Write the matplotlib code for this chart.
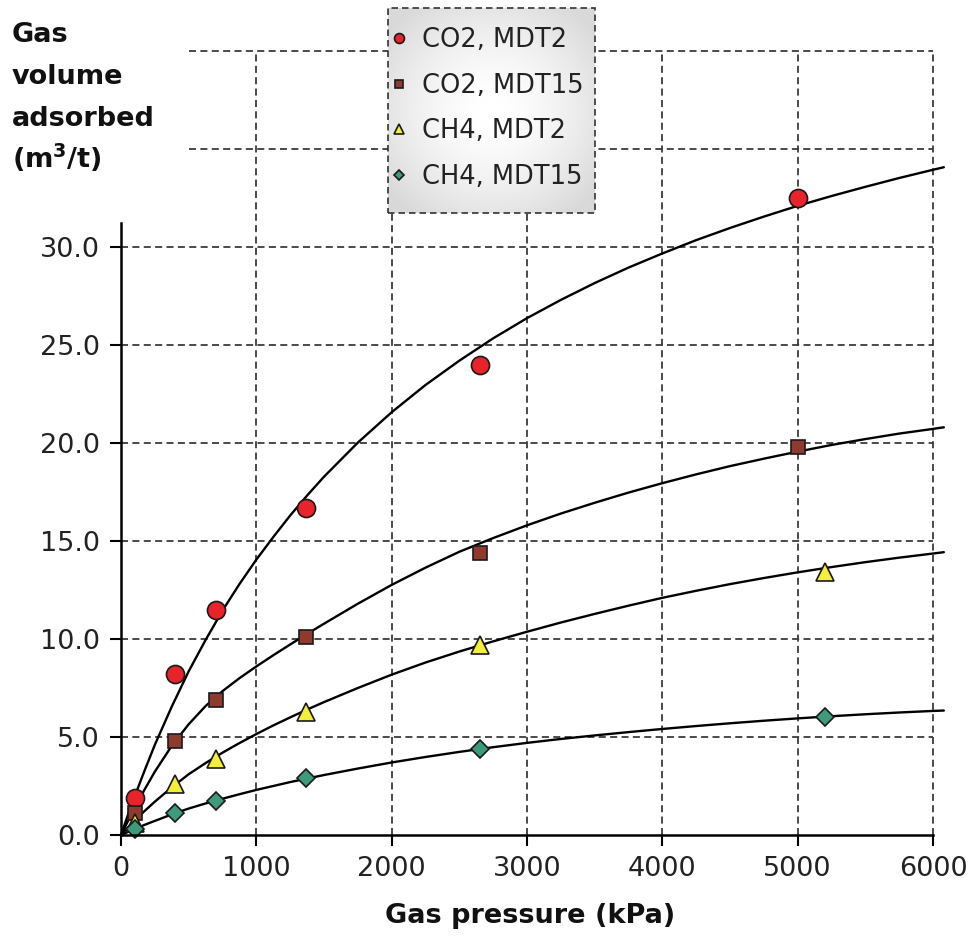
import numpy as np
import matplotlib
matplotlib.use("Agg")
import matplotlib.pyplot as plt
from matplotlib.patches import Rectangle

plt.rcParams['font.family'] = ['DejaVu Sans']

# ---------------- data ----------------
co2_mdt2_p = [100, 400, 700, 1370, 2650, 5000]
co2_mdt2_v = [1.9, 8.2, 11.5, 16.7, 24.0, 32.5]
co2_mdt15_p = [100, 400, 700, 1370, 2650, 5000]
co2_mdt15_v = [1.1, 4.8, 6.9, 10.1, 14.4, 19.8]
ch4_mdt2_p = [100, 400, 700, 1370, 2650, 5200]
ch4_mdt2_v = [0.6, 2.6, 3.9, 6.3, 9.7, 13.4]
ch4_mdt15_p = [100, 400, 700, 1370, 2650, 5200]
ch4_mdt15_v = [0.3, 1.1, 1.75, 2.9, 4.4, 6.0]

# fitted curves, values
curve_p = [0, 50, 100, 175, 250, 375, 500, 625, 750, 875, 1000, 1125, 1250,
           1375, 1500, 1750, 2000, 2250, 2500, 2750, 3000, 3250, 3500, 3750,
           4000, 4250, 4500, 4750, 5000, 5250, 5500, 5750, 6000, 6080]
curve_co2_mdt2 = [0, 1.0, 1.95, 3.3, 4.6, 6.55, 8.35, 9.95, 11.45, 12.8, 14.05,
                  15.2, 16.3, 17.32, 18.28, 20.02, 21.57, 22.96, 24.2, 25.34,
                  26.37, 27.3, 28.16, 28.95, 29.67, 30.35, 30.97, 31.55, 32.1,
                  32.6, 33.07, 33.52, 33.94, 34.07]
curve_co2_mdt15 = [0, 0.69, 1.35, 2.33, 3.23, 4.55, 5.65, 6.58, 7.34, 8.0, 8.6,
                   9.17, 9.72, 10.26, 10.78, 11.8, 12.76, 13.64, 14.45, 15.15,
                   15.8, 16.4, 16.95, 17.47, 17.95, 18.4, 18.82, 19.2, 19.56,
                   19.9, 20.2, 20.48, 20.72, 20.8]
curve_ch4_mdt2 = [0, 0.37, 0.72, 1.23, 1.7, 2.43, 3.1, 3.67, 4.2, 4.69, 5.15,
                  5.59, 6.0, 6.4, 6.78, 7.5, 8.18, 8.8, 9.36, 9.88, 10.37,
                  10.84, 11.28, 11.7, 12.1, 12.46, 12.8, 13.11, 13.4, 13.67,
                  13.92, 14.15, 14.36, 14.43]
curve_ch4_mdt15 = [0, 0.15, 0.3, 0.52, 0.72, 1.05, 1.35, 1.61, 1.85, 2.08, 2.3,
                   2.5, 2.7, 2.88, 3.06, 3.39, 3.7, 3.98, 4.24, 4.48, 4.7, 4.9,
                   5.08, 5.25, 5.41, 5.56, 5.7, 5.83, 5.95, 6.06, 6.16, 6.25,
                   6.33, 6.35]

series_labels = ['CO2, MDT2', 'CO2, MDT15', 'CH4, MDT2', 'CH4, MDT15']

x_ticks = [0, 1000, 2000, 3000, 4000, 5000, 6000]
y_ticks = [0, 5, 10, 15, 20, 25, 30]
grid_y_low = [5, 10, 15, 20, 25, 30]
grid_y_high = [35, 40]
grid_x = [1000, 2000, 3000, 4000, 5000, 6000]

# ---------------- figure ----------------
W, H = 976, 942
fig = plt.figure(figsize=(W / 100, H / 100), dpi=100)
fig.patch.set_facecolor('white')

x0_px, y0_px = 121, 835
px_per_kpa = 812 / 6000.0
px_per_unit = 19.6
xmax, ymax = 6100, 42.5
ax = fig.add_axes([x0_px / W, 1 - y0_px / H,
                   xmax * px_per_kpa / W, ymax * px_per_unit / H])
ax.set_xlim(0, xmax)
ax.set_ylim(0, ymax)
ax.set_facecolor('none')


def px2data(px, py):
    return (px - x0_px) / px_per_kpa, (y0_px - py) / px_per_unit


gkw = dict(colors='#3c3c3c', linewidth=1.3, linestyles=(0, (3.9, 2.4)), zorder=1)
ax.hlines(grid_y_low, 0, 6000, **gkw)
ax.hlines(grid_y_high, 500, 6000, **gkw)
ax.vlines(grid_x, 0, 40, **gkw)

for vals in [curve_co2_mdt2, curve_co2_mdt15, curve_ch4_mdt2, curve_ch4_mdt15]:
    ax.plot(curve_p, vals, color='black', lw=1.7, zorder=3,
            solid_capstyle='round', solid_joinstyle='round', clip_on=False)

mk = dict(linestyle='none', mec='#1a1a1a', mew=1.2, zorder=4, clip_on=False)
h1, = ax.plot(co2_mdt2_p, co2_mdt2_v, marker='o', ms=13, mfc='#e8232b',
              label=series_labels[0], **mk)
h2, = ax.plot(co2_mdt15_p, co2_mdt15_v, marker='s', ms=9.5, mfc='#8e3a2c',
              label=series_labels[1], **mk)
h3, = ax.plot(ch4_mdt2_p, ch4_mdt2_v, marker='^', ms=13, mfc='#f2ee3a',
              label=series_labels[2], **mk)
h4, = ax.plot(ch4_mdt15_p, ch4_mdt15_v, marker='D', ms=9, mfc='#3e9a7a',
              label=series_labels[3], **mk)

# axes styling
for s in ['top', 'right']:
    ax.spines[s].set_visible(False)
ax.spines['left'].set_bounds(0, 31.2)
ax.spines['bottom'].set_bounds(0, 6000)
for s in ['left', 'bottom']:
    ax.spines[s].set_linewidth(1.8)
    ax.spines[s].set_zorder(5)
ax.set_xticks(x_ticks)
ax.set_xticklabels([str(t) for t in x_ticks])
ax.set_yticks(y_ticks)
ax.set_yticklabels(['%.1f' % t for t in y_ticks])
ax.tick_params(axis='both', direction='out', length=8, width=1.5,
               labelsize=19.5, labelcolor='#222222')
ax.tick_params(axis='y', pad=7)
ax.tick_params(axis='x', pad=7)

# legend box (gradient background + dashed frame)
bx0, by1 = px2data(388, 8)
bx1, by0 = px2data(595, 213)
yy, xx = np.mgrid[-1:1:200j, -1:1:200j]
grad = 1.0 - 0.15 * np.clip((xx ** 2 + yy ** 2) / 1.6, 0, 1) ** 0.8
ax.imshow(grad, cmap='gray', vmin=0, vmax=1, extent=[bx0, bx1, by0, by1],
          aspect='auto', zorder=5.5, clip_on=False, interpolation='bilinear')
ax.add_patch(Rectangle((bx0, by0), bx1 - bx0, by1 - by0, facecolor='none',
                       edgecolor='#333333', linewidth=1.2,
                       linestyle=(0, (3.9, 2.4)), zorder=5.6, clip_on=False))
ax.set_xlim(0, xmax)
ax.set_ylim(0, ymax)

lx, ly = px2data(391, 27)
leg = ax.legend(handles=[h1, h2, h3, h4], loc='upper left',
                bbox_to_anchor=(lx / xmax, ly / ymax),
                fontsize=18.5, markerscale=0.55, handlelength=0.6,
                handletextpad=0.6, labelspacing=0.76, borderpad=0,
                borderaxespad=0, frameon=False)
for t in leg.get_texts():
    t.set_color('#222222')
leg.set_zorder(6)

# axis titles
ylab_lines = ['Gas', 'volume', 'adsorbed', r'(m$^{\mathbf{3}}$/t)']
for i, line in enumerate(ylab_lines):
    fig.text(12 / W, 1 - (42 + 42 * i) / H, line, fontsize=19.5,
             fontweight='bold', ha='left', va='baseline', color='#111111')
fig.text(530 / W, 1 - 923 / H, 'Gas pressure (kPa)', fontsize=19.5,
         fontweight='bold', ha='center', va='baseline', color='#111111')

fig.savefig('out.png', dpi=100, facecolor='white')
